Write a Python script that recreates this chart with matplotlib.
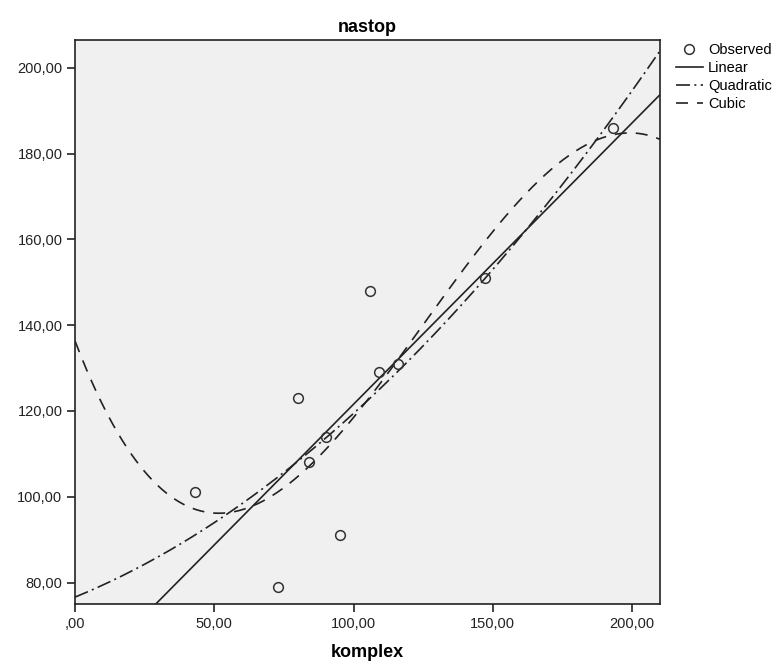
import matplotlib.pyplot as plt
from matplotlib.ticker import FuncFormatter
import numpy as np

plt.rcParams['font.family'] = ['Liberation Sans', 'DejaVu Sans']

# observed cases
komplex = [43, 73, 80, 84, 90, 95, 106, 109, 116, 147, 193]
nastop = [101, 79, 123, 108, 114, 91, 148, 129, 131, 151, 186]

x_ticks = [0, 50, 100, 150, 200]
y_ticks = [80, 100, 120, 140, 160, 180, 200]


def spss_fmt(v, pos=None):
    s = "%.2f" % v
    s = s.replace('.', ',')
    if s.startswith('0,'):
        s = s[1:]
    return s


fig = plt.figure(figsize=(7.73, 6.64), dpi=100)
ax = fig.add_axes([75 / 773, 1 - 604 / 664, 585 / 773, 564 / 664])
ax.set_facecolor('#f0f0f0')

xs = np.linspace(0, 210, 400)
xo = np.array(komplex, dtype=float)
yo = np.array(nastop, dtype=float)

# curve estimation: linear, quadratic, cubic least squares
fit_lin = np.polyval(np.polyfit(xo, yo, 1), xs)
fit_quad = np.polyval(np.polyfit(xo, yo, 2), xs)
fit_cub = np.polyval(np.polyfit(xo, yo, 3), xs)

ax.plot(xo, yo, 'o', ms=7, mfc='none', mec='#333333', mew=1.1,
        label='Observed', zorder=4)
ax.plot(xs, fit_lin, color='#222222', lw=1.2, label='Linear')
ax.plot(xs, fit_quad, color='#222222', lw=1.2, dashes=(8.4, 2.6, 1.2, 2.6),
        label='Quadratic')
ax.plot(xs, fit_cub, color='#222222', lw=1.2, dashes=(7.2, 5.4),
        label='Cubic')

ax.set_xlim(0, 210)
ax.set_ylim(75, 206.5)
ax.set_xticks(x_ticks)
ax.set_yticks(y_ticks)
ax.xaxis.set_major_formatter(FuncFormatter(spss_fmt))
ax.yaxis.set_major_formatter(FuncFormatter(spss_fmt))
ax.tick_params(direction='out', length=6, width=1.2, labelsize=10.5,
               colors='#222222', pad=3)

for sp in ax.spines.values():
    sp.set_linewidth(1.2)
    sp.set_color('#222222')

ax.set_title('nastop', fontsize=13, fontweight='bold', pad=6)
ax.set_xlabel('komplex', fontsize=13, fontweight='bold', labelpad=10)

fig.legend(*ax.get_legend_handles_labels(), loc='upper left',
           bbox_to_anchor=(676 / 773, 1 - 43 / 664), frameon=False,
           fontsize=10.5, handlelength=1.85, handletextpad=0.35,
           labelspacing=0.28, borderaxespad=0, borderpad=0)

fig.savefig('out.png', dpi=100)
